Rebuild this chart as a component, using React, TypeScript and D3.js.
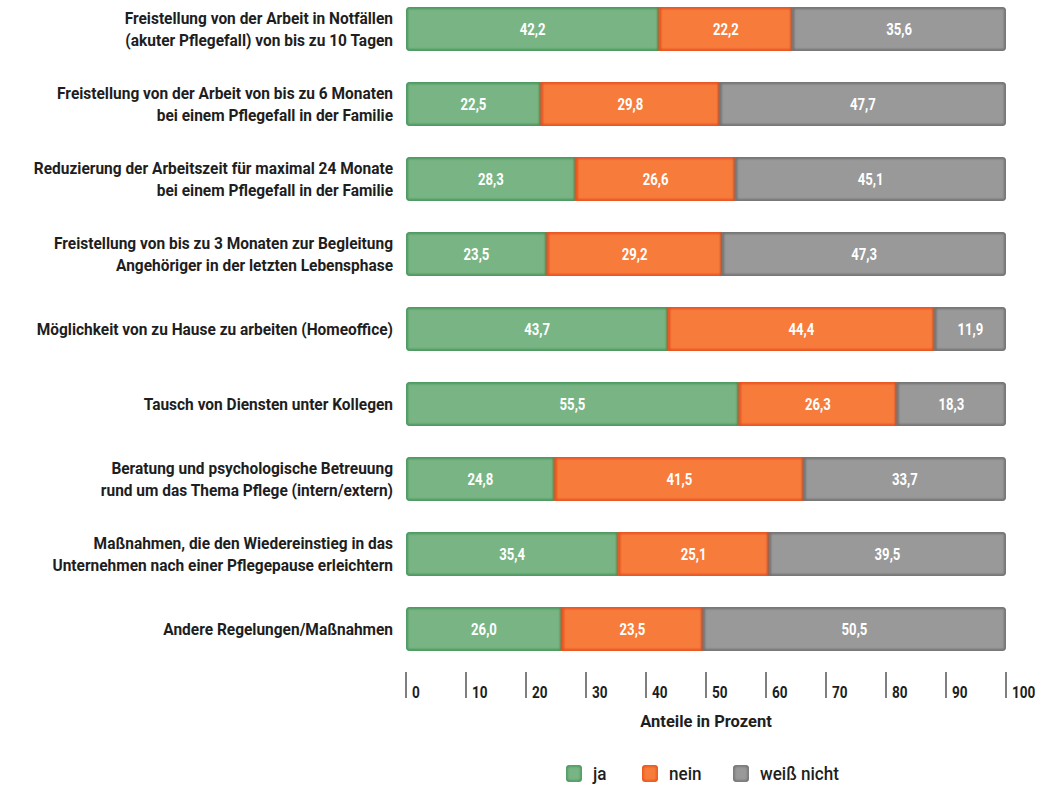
import React from "react";
import * as d3 from "d3";

const categories: string[][] = [
  ["Freistellung von der Arbeit in Notfällen", "(akuter Pflegefall) von bis zu 10 Tagen"],
  ["Freistellung von der Arbeit von bis zu 6 Monaten", "bei einem Pflegefall in der Familie"],
  ["Reduzierung der Arbeitszeit für maximal 24 Monate", "bei einem Pflegefall in der Familie"],
  ["Freistellung von bis zu 3 Monaten zur Begleitung", "Angehöriger in der letzten Lebensphase"],
  ["Möglichkeit von zu Hause zu arbeiten (Homeoffice)"],
  ["Tausch von Diensten unter Kollegen"],
  ["Beratung und psychologische Betreuung", "rund um das Thema Pflege (intern/extern)"],
  ["Maßnahmen, die den Wiedereinstieg in das", "Unternehmen nach einer Pflegepause erleichtern"],
  ["Andere Regelungen/Maßnahmen"],
];
const ja = [42.2, 22.5, 28.3, 23.5, 43.7, 55.5, 24.8, 35.4, 26.0];
const nein = [22.2, 29.8, 26.6, 29.2, 44.4, 26.3, 41.5, 25.1, 23.5];
const weissNicht = [35.6, 47.7, 45.1, 47.3, 11.9, 18.3, 33.7, 39.5, 50.5];
const seriesNames = ["ja", "nein", "weiß nicht"];
const ticks = [0, 10, 20, 30, 40, 50, 60, 70, 80, 90, 100];
const axisTitle = "Anteile in Prozent";

const fills = ["#79b584", "#f77c3b", "#999999"];
const edges = ["#3f9157", "#e5481a", "#6a6a6a"];
const FONT = "Roboto, 'Open Sans', sans-serif";

function CText(props: {
  x: number;
  y: number;
  anchor?: "start" | "middle" | "end";
  size: number;
  weight?: number | string;
  fill: string;
  sx?: number;
  children: React.ReactNode;
}) {
  return (
    <text
      transform={`translate(${props.x},${props.y}) scale(${props.sx ?? 0.8},1)`}
      textAnchor={props.anchor || "start"}
      fontSize={props.size}
      fontWeight={props.weight ?? 500}
      fill={props.fill}
    >
      {props.children}
    </text>
  );
}

export default function App() {
  const x = d3.scaleLinear().domain([0, 100]).range([406, 1006]);
  const y = d3.scalePoint<number>().domain(d3.range(categories.length)).range([29, 629]);
  const bh = 44;
  const data = [ja, nein, weissNicht];
  const fmt = (v: number) => v.toFixed(1).replace(".", ",");
  const legendX = [566, 642, 733];

  return (
    <svg width={1050} height={787} style={{ position: "absolute", left: 0, top: 0 }} fontFamily={FONT}>
      <defs>
        <filter id="blur" x="-5%" y="-20%" width="110%" height="140%">
          <feGaussianBlur stdDeviation="1.3" />
        </filter>
        {categories.map((_, i) => {
          const cy = y(i)!;
          return (
            <clipPath id={`clip${i}`} key={i}>
              <rect x={x(0)} y={cy - bh / 2} width={x(100) - x(0)} height={bh} rx={4} ry={4} />
            </clipPath>
          );
        })}
        {[0, 1, 2].map((k) => (
          <clipPath id={`lg${k}`} key={k}>
            <rect x={legendX[k]} y={765} width={16} height={17} rx={3} />
          </clipPath>
        ))}
      </defs>
      {categories.map((lines, i) => {
        const cy = y(i)!;
        let acc = 0;
        return (
          <g key={i}>
            {lines.map((l, j) => (
              <CText
                key={j}
                x={393}
                y={cy + 6 + (lines.length === 2 ? (j === 0 ? -11 : 11) : 0)}
                anchor="end"
                size={17}
                weight={700}
                sx={0.91}
                fill="#1e1e1e"
              >
                {l}
              </CText>
            ))}
            <g clipPath={`url(#clip${i})`}>
              {data.map((s, k) => {
                const v = s[i];
                const x0 = x(acc);
                acc += v;
                const x1 = x(Math.min(acc, 100));
                return (
                  <g key={k}>
                    <rect x={x0} y={cy - bh / 2} width={x1 - x0} height={bh} fill={fills[k]} />
                    <rect
                      x={x0 + 0.5}
                      y={cy - bh / 2 + 0.5}
                      width={x1 - x0 - 1}
                      height={bh - 1}
                      fill="none"
                      stroke={edges[k]}
                      strokeWidth={2.5}
                      filter="url(#blur)"
                    />
                    <CText x={(x0 + x1) / 2} y={cy + 5.5} anchor="middle" size={16} weight="bold" sx={0.82} fill="#fff">
                      {fmt(v)}
                    </CText>
                  </g>
                );
              })}
            </g>
          </g>
        );
      })}
      {ticks.map((t) => (
        <g key={t}>
          <line x1={x(t)} x2={x(t)} y1={672} y2={698} stroke="#555" strokeWidth={1.5} />
          <CText x={x(t) + 6} y={698} size={17} weight={700} sx={0.8} fill="#1e1e1e">
            {t}
          </CText>
        </g>
      ))}
      <CText x={706} y={727} anchor="middle" size={17} weight={700} sx={0.97} fill="#1e1e1e">
        {axisTitle}
      </CText>
      {seriesNames.map((n, k) => {
        const lx = legendX[k];
        return (
          <g key={n}>
            <g clipPath={`url(#lg${k})`}>
              <rect x={lx} y={765} width={16} height={17} rx={3} fill={fills[k]} />
              <rect x={lx + 0.5} y={765.5} width={15} height={16} rx={3} fill="none" stroke={edges[k]} strokeWidth={2} filter="url(#blur)" />
            </g>
            <CText x={lx + 27} y={780} size={18} weight={500} sx={0.95} fill="#1e1e1e">
              {n}
            </CText>
          </g>
        );
      })}
    </svg>
  );
}
